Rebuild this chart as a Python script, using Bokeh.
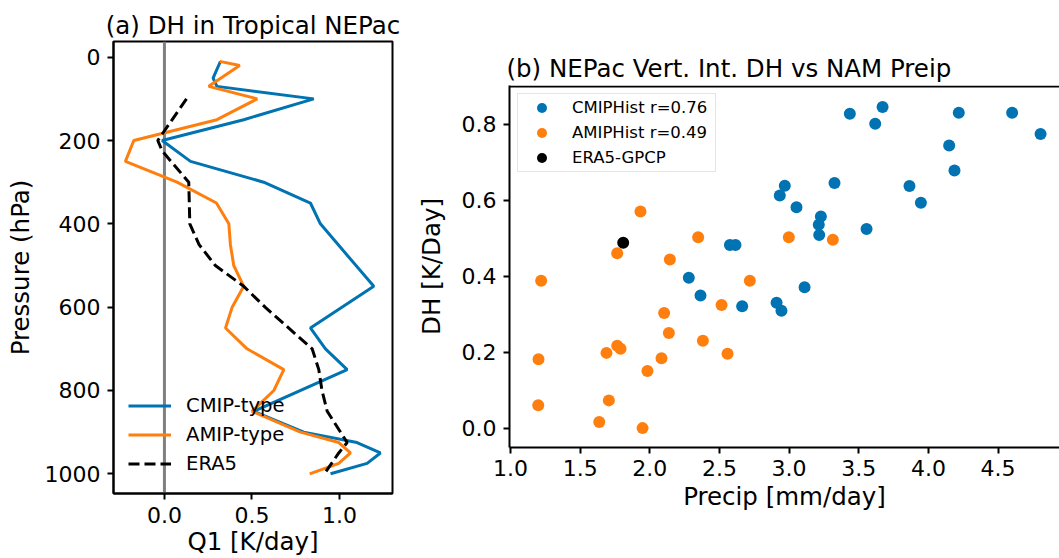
from bokeh.plotting import figure
from bokeh.layouts import row
from bokeh.models import (Range1d, FixedTicker, Span, Legend, LegendItem, NumeralTickFormatter)
from bokeh.embed import file_html
from bokeh.resources import INLINE

FONT = "DejaVu Sans"
BLUE = "#0173b2"
ORANGE = "#ff7f0e"

# ---------------- (a) profiles ----------------
cmip_p = [10, 50, 70, 100, 150, 200, 250, 300, 350, 400, 550, 650, 700, 750, 850, 900, 925, 950, 975, 1000]
cmip_q = [0.32, 0.278, 0.30, 0.853, 0.453, -0.013, 0.149, 0.567, 0.834, 0.891, 1.196, 0.834, 0.92, 1.044,
          0.51, 0.796, 1.10, 1.234, 1.158, 0.949]

amip_p = [10, 20, 70, 100, 150, 200, 250, 300, 350, 400, 450, 500, 550, 600, 650, 700, 750, 800,
          850, 900, 925, 950, 975, 1000]
amip_q = [0.316, 0.43, 0.253, 0.53, 0.30, -0.175, -0.223, 0.072, 0.297, 0.368, 0.377, 0.396,
          0.453, 0.387, 0.349, 0.472, 0.682, 0.625, 0.50, 0.777, 0.996, 1.063, 0.996, 0.83]

era5_p = [100, 200, 225, 300, 400, 450, 500, 550, 600, 700, 750, 800, 850, 925, 950, 1000]
era5_q = [0.126, -0.038, -0.013, 0.139, 0.145, 0.198, 0.291, 0.453, 0.575, 0.844, 0.882, 0.90, 0.93,
          1.044, 0.996, 0.914]

p_ticks = [0, 200, 400, 600, 800, 1000]
q_ticks = [0.0, 0.5, 1.0]

# ---------------- (b) scatter ----------------
cmip_precip = [2.28, 2.364, 2.575, 2.615, 2.663, 2.91, 2.945, 3.111, 2.933, 2.969, 3.053, 3.228, 3.213,
               3.216, 3.326, 3.556, 3.864, 3.946, 4.149, 4.187, 3.436, 3.671, 3.618, 4.218, 4.601, 4.805]
cmip_dh = [0.397, 0.35, 0.483, 0.483, 0.322, 0.331, 0.31, 0.372, 0.613, 0.639, 0.582, 0.558, 0.536,
           0.509, 0.646, 0.525, 0.638, 0.594, 0.745, 0.679, 0.828, 0.846, 0.802, 0.831, 0.831, 0.775]

amip_precip = [1.933, 1.766, 2.347, 2.144, 1.22, 2.718, 2.998, 3.314, 2.515, 2.103, 2.137, 2.381, 1.689,
               1.766, 1.79, 2.558, 2.084, 1.201, 1.983, 1.706, 1.199, 1.637, 1.948]
amip_dh = [0.571, 0.461, 0.503, 0.445, 0.389, 0.389, 0.503, 0.497, 0.325, 0.304, 0.251, 0.231, 0.199,
           0.218, 0.21, 0.197, 0.185, 0.182, 0.151, 0.074, 0.061, 0.017, 0.001]

era5_precip = [1.809]
era5_dh = [0.489]

precip_ticks = [1.0, 1.5, 2.0, 2.5, 3.0, 3.5, 4.0, 4.5]
dh_ticks = [0.0, 0.2, 0.4, 0.6, 0.8]

TICK_FS = "22px"
LABEL_FS = "24.5px"


def style_axis(ax, ticks, fmt=None):
    ax.ticker = FixedTicker(ticks=ticks)
    if fmt:
        ax.formatter = NumeralTickFormatter(format=fmt)
    ax.major_label_text_font = FONT
    ax.major_label_text_font_size = TICK_FS
    ax.major_label_text_color = "black"
    ax.axis_label_text_font = FONT
    ax.axis_label_text_font_size = LABEL_FS
    ax.axis_label_text_font_style = "normal"
    ax.axis_label_text_color = "black"
    ax.axis_line_width = 2
    ax.axis_line_color = "black"
    ax.major_tick_line_width = 2
    ax.major_tick_line_color = "black"
    ax.major_tick_out = 6
    ax.major_tick_in = 0
    ax.minor_tick_line_color = None


def style_title(t, align, offset, standoff):
    t.align = align
    t.offset = offset
    t.standoff = standoff
    t.text_font = FONT
    t.text_font_size = LABEL_FS
    t.text_font_style = "normal"
    t.text_color = "black"


# ---------- panel (a) ----------
p1 = figure(width=400, height=558, x_range=Range1d(-0.291, 1.303), y_range=Range1d(1047.3, -37.7),
            output_backend="svg", toolbar_location=None, frame_align=False,
            title="(a) DH in Tropical NEPac",
            min_border_left=113, min_border_right=8, min_border_top=41, min_border_bottom=65)
p1.grid.visible = False
p1.outline_line_color = "black"
p1.outline_line_width = 2
p1.background_fill_color = "white"
p1.border_fill_color = "white"
style_title(p1.title, "center", 0, 3)

style_axis(p1.xaxis[0], q_ticks, "0.0")
p1.xaxis[0].major_label_standoff = 7
p1.xaxis[0].axis_label = "Q1 [K/day]"
p1.xaxis[0].axis_label_standoff = 1
style_axis(p1.yaxis[0], p_ticks)
p1.yaxis[0].major_label_standoff = 7
p1.yaxis[0].axis_label = "Pressure (hPa)"
p1.yaxis[0].axis_label_standoff = 7

p1.add_layout(Span(location=0, dimension="height", line_color="gray", line_width=3, level="underlay"))

r_c = p1.line(cmip_q, cmip_p, line_color=BLUE, line_width=3)
r_a = p1.line(amip_q, amip_p, line_color=ORANGE, line_width=3)
r_e = p1.line(era5_q, era5_p, line_color="black", line_width=3, line_dash="11 5")

leg1 = Legend(items=[LegendItem(label="CMIP-type", renderers=[r_c]),
                     LegendItem(label="AMIP-type", renderers=[r_a]),
                     LegendItem(label="ERA5", renderers=[r_e])],
              location=(15, 18), background_fill_alpha=0, border_line_color=None,
              label_text_font=FONT, label_text_font_size="19.6px", label_text_color="black",
              glyph_width=43, glyph_height=23, label_height=23, label_standoff=15,
              spacing=6, padding=10, margin=0)
p1.add_layout(leg1)

# ---------- panel (b) ----------
p2 = figure(width=659, height=558, x_range=Range1d(0.9928, 4.941), y_range=Range1d(-0.05, 0.9026),
            output_backend="svg", toolbar_location=None, frame_align=False,
            title="(b) NEPac Vert. Int. DH vs NAM Preip",
            min_border_left=109, min_border_right=0, min_border_top=85, min_border_bottom=111)
p2.grid.visible = False
p2.outline_line_color = None
p2.background_fill_color = "white"
p2.border_fill_color = "white"
style_title(p2.title, "left", -3, 6)

bx = p2.below[0]
style_axis(bx, precip_ticks, "0.0")
bx.major_label_standoff = 6
bx.axis_label = "Precip [mm/day]"
bx.axis_label_standoff = 3

ly = p2.left[0]
style_axis(ly, dh_ticks, "0.0")
ly.major_label_standoff = 7
ly.axis_label = "DH [K/Day]"
ly.axis_label_standoff = 13

p2.add_layout(Span(location=0.9, dimension="width", line_color="black", line_width=2))

s_c = p2.scatter(cmip_precip, cmip_dh, size=12, fill_color=BLUE, line_color=None)
s_a = p2.scatter(amip_precip, amip_dh, size=12, fill_color=ORANGE, line_color=None)
s_e = p2.scatter(era5_precip, era5_dh, size=12, fill_color="black", line_color=None)

leg2 = Legend(items=[LegendItem(label="CMIPHist r=0.76", renderers=[s_c]),
                     LegendItem(label="AMIPHist r=0.49", renderers=[s_a]),
                     LegendItem(label="ERA5-GPCP", renderers=[s_e])],
              location=(8, 275), background_fill_color="white", background_fill_alpha=0.8,
              border_line_color="#cccccc", border_line_width=1,
              label_text_font=FONT, label_text_font_size="16.5px", label_text_color="black",
              glyph_width=45, glyph_height=25, label_height=20, label_width=142, label_standoff=8,
              spacing=0, padding=1, margin=0)
p2.add_layout(leg2)

layout = row(p1, p2)
open("out.html", "w").write(file_html(layout, INLINE))
